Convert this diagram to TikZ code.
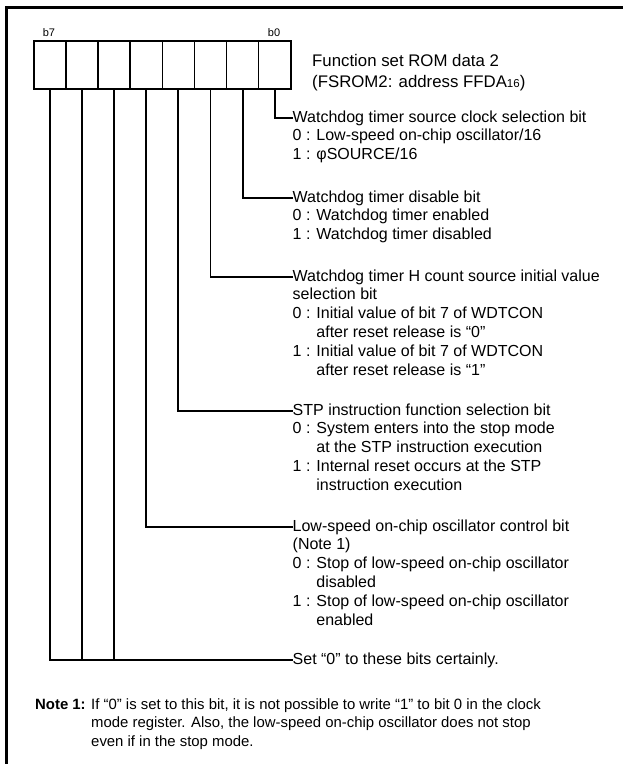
\documentclass[tikz,border=0pt]{standalone}
\usepackage{fontspec}
\setmainfont{Liberation Sans}
\newcommand{\descfont}{\fontsize{16}{19}\selectfont}
\newcommand{\titlefont}{\fontsize{16.8}{19.5}\selectfont}
\newcommand{\bitfont}{\fontsize{11}{13}\selectfont}
\newcommand{\notefont}{\fontsize{14.9}{18.8}\selectfont}
\newcommand{\sixteen}{\raisebox{-0.5pt}{\fontsize{11.5}{13}\selectfont 16}}
\tikzset{
  frameline/.style={line width=3.2pt},
  cell/.style={draw, line width=1.6pt, minimum width=32.125pt, minimum height=48pt, inner sep=0pt, anchor=north west},
  bitline/.style={line width=1.8pt},
  txt/.style={anchor=base west, inner sep=0pt, font=\descfont, text height=11pt, text depth=3pt},
  notetxt/.style={anchor=base west, inner sep=0pt, font=\notefont},
}
\begin{document}
\begin{tikzpicture}[x=1pt,y=-1pt]
\useasboundingbox (0,0) rectangle (623,764);
% frame
\coordinate (ftl) at (6.6,7.3);
\coordinate (ftr) at (623,7.3);
\coordinate (fbl) at (6.6,764);
\draw[frameline] (ftr) -- (ftl) -- (fbl);
% register cells (c7 left ... c0 right)
\foreach \i in {0,...,7} {
  \node[cell] (c\i) at ({290-(\i+1)*32.125},40) {};
}
\node[font=\bitfont, anchor=base] (lb7) at (49,36.5) {b7};
\node[font=\bitfont, anchor=base] (lb0) at (274,36.5) {b0};
\node[anchor=base west, inner sep=0pt, font=\titlefont] (title1) at (312,66) {Function set ROM data 2};
\node[anchor=base west, inner sep=0pt, font=\titlefont] (title2) at (312,87) {(FSROM2: address FFDA\sixteen)};
% entry 0
\node[txt] (h0) at (292.5,122) {Watchdog timer source clock selection bit};
\node[txt] (h0a) at (292.5,140.8) {0 : Low-speed on-chip oscillator/16};
\node[txt] (h0b) at (292.5,159.6) {1 : φSOURCE/16};
% entry 1
\node[txt] (h1) at (292.5,202) {Watchdog timer disable bit};
\node[txt] (h1a) at (292.5,220.8) {0 : Watchdog timer enabled};
\node[txt] (h1b) at (292.5,239.6) {1 : Watchdog timer disabled};
% entry 2
\node[txt] (h2) at (292.5,281) {Watchdog timer H count source initial value};
\node[txt] (h2a) at (292.5,299.8) {selection bit};
\node[txt] (h2b) at (292.5,318.6) {0 : Initial value of bit 7 of WDTCON};
\node[txt] (h2c) at (292.5,337.4) {\phantom{0 : }after reset release is “0”};
\node[txt] (h2d) at (292.5,356.2) {1 : Initial value of bit 7 of WDTCON};
\node[txt] (h2e) at (292.5,375) {\phantom{1 : }after reset release is “1”};
% entry 3
\node[txt] (h3) at (292.5,415) {STP instruction function selection bit};
\node[txt] (h3a) at (292.5,433.8) {0 : System enters into the stop mode};
\node[txt] (h3b) at (292.5,452.6) {\phantom{0 : }at the STP instruction execution};
\node[txt] (h3c) at (292.5,471.4) {1 : Internal reset occurs at the STP};
\node[txt] (h3d) at (292.5,490.2) {\phantom{1 : }instruction execution};
% entry 4
\node[txt] (h4) at (292.5,531) {Low-speed on-chip oscillator control bit};
\node[txt] (h4a) at (292.5,549.8) {(Note 1)};
\node[txt] (h4b) at (292.5,568.6) {0 : Stop of low-speed on-chip oscillator};
\node[txt] (h4c) at (292.5,587.4) {\phantom{0 : }disabled};
\node[txt] (h4d) at (292.5,606.2) {1 : Stop of low-speed on-chip oscillator};
\node[txt] (h4e) at (292.5,625) {\phantom{1 : }enabled};
% entry 5
\node[txt] (h5) at (292.5,664) {Set “0” to these bits certainly.};
% connectors
\draw[bitline] (c0.south) |- (h0.west);
\draw[bitline] (c1.south) |- (h1.west);
\draw[bitline] (c2.south) |- (h2.west);
\draw[bitline] (c3.south) |- (h3.west);
\draw[bitline] (c4.south) |- (h4.west);
\draw[bitline] (c7.south) |- (h5.west);
\draw[bitline] (c6.south) -- (c6.south |- h5.west);
\draw[bitline] (c5.south) -- (c5.south |- h5.west);
% note
\node[notetxt] (n1) at (35,709) {\textbf{Note 1:} If “0” is set to this bit, it is not possible to write “1” to bit 0 in the clock};
\node[notetxt] (n2) at (35,727.8) {\phantom{\textbf{Note 1:} }mode register. Also, the low-speed on-chip oscillator does not stop};
\node[notetxt] (n3) at (35,746.6) {\phantom{\textbf{Note 1:} }even if in the stop mode.};
\end{tikzpicture}
\end{document}
